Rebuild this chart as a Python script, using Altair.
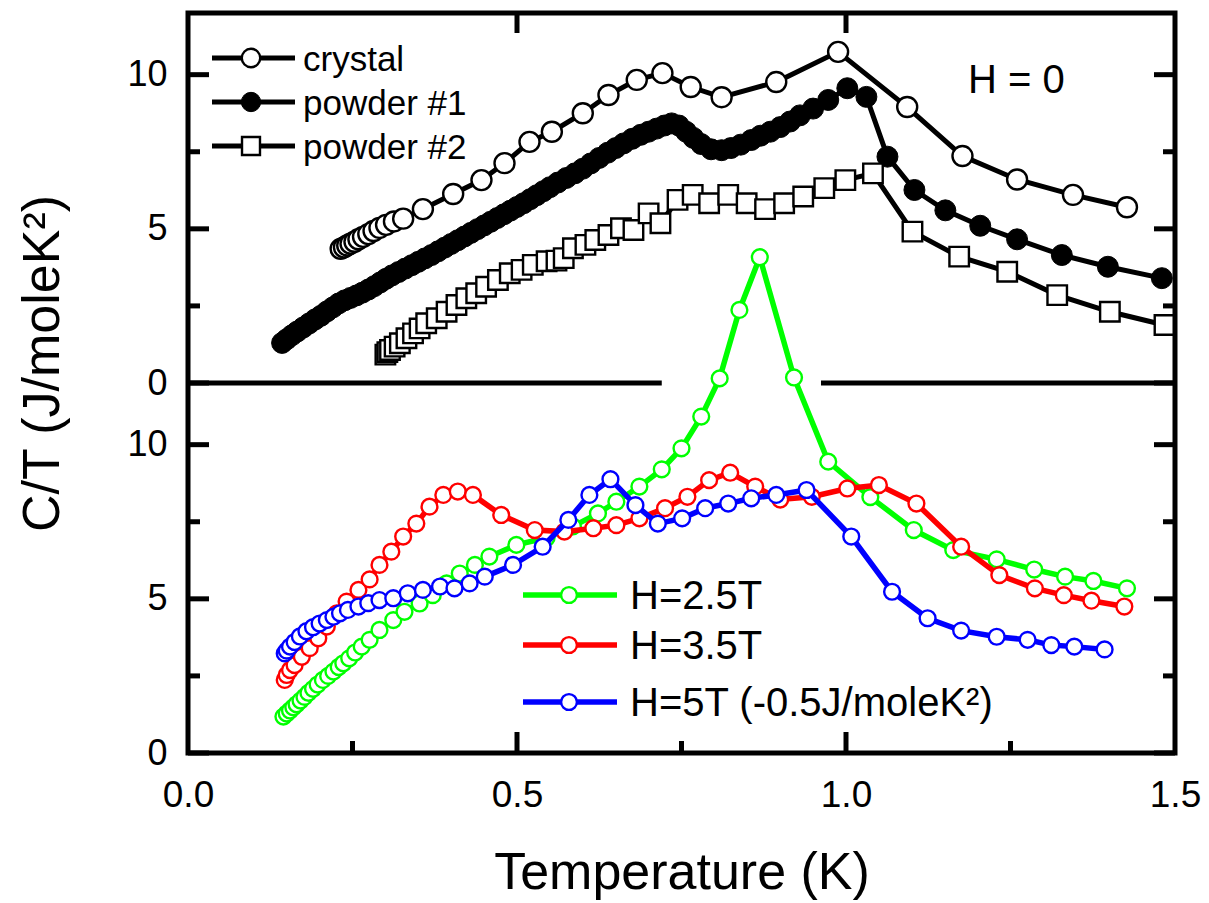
import altair as alt
import pandas as pd

# ---------------- data ----------------
# upper panel, H = 0  (T in K, C/T in J/moleK^2)
crystal = [(0.232, 4.35), (0.237, 4.40), (0.242, 4.46), (0.247, 4.52), (0.253, 4.58),
           (0.259, 4.66), (0.266, 4.74), (0.274, 4.83), (0.282, 4.93), (0.291, 5.03),
           (0.301, 5.13), (0.313, 5.24), (0.327, 5.33), (0.357, 5.64), (0.403, 6.13),
           (0.446, 6.58), (0.481, 7.13), (0.519, 7.82), (0.553, 8.15), (0.600, 8.75),
           (0.639, 9.34), (0.682, 9.83), (0.721, 10.05), (0.764, 9.60), (0.811, 9.27),
           (0.894, 9.76), (0.988, 10.74), (1.093, 8.95), (1.177, 7.36), (1.260, 6.60),
           (1.345, 6.10), (1.427, 5.70)]

powder1 = [(0.143, 1.30), (0.150, 1.42), (0.158, 1.55), (0.166, 1.67), (0.175, 1.80),
           (0.184, 1.93), (0.193, 2.06), (0.202, 2.18), (0.211, 2.32), (0.220, 2.45),
           (0.229, 2.58), (0.238, 2.68), (0.247, 2.76), (0.256, 2.84), (0.265, 2.93),
           (0.274, 3.03), (0.283, 3.14), (0.292, 3.26), (0.301, 3.38), (0.310, 3.49),
           (0.320, 3.60), (0.330, 3.71), (0.340, 3.82), (0.350, 3.93), (0.360, 4.04),
           (0.370, 4.15), (0.380, 4.27), (0.390, 4.39), (0.400, 4.51), (0.410, 4.63),
           (0.420, 4.75), (0.430, 4.87), (0.440, 4.99), (0.450, 5.11), (0.460, 5.23),
           (0.470, 5.35), (0.480, 5.47), (0.490, 5.59), (0.500, 5.71), (0.510, 5.83),
           (0.520, 5.96), (0.530, 6.09), (0.540, 6.22), (0.550, 6.35), (0.562, 6.50),
           (0.575, 6.65), (0.588, 6.80), (0.600, 6.95), (0.612, 7.12), (0.625, 7.30),
           (0.638, 7.47), (0.650, 7.62), (0.662, 7.77), (0.675, 7.92), (0.688, 8.05),
           (0.700, 8.15), (0.712, 8.25), (0.724, 8.35), (0.735, 8.42), (0.746, 8.35),
           (0.757, 8.15), (0.768, 7.95), (0.780, 7.75), (0.795, 7.58), (0.811, 7.55),
           (0.825, 7.62), (0.840, 7.73), (0.856, 7.88), (0.870, 8.02), (0.885, 8.15),
           (0.900, 8.30), (0.915, 8.48), (0.930, 8.68), (0.950, 8.90), (0.973, 9.18),
           (1.002, 9.56), (1.031, 9.28), (1.063, 7.34), (1.104, 6.26), (1.151, 5.60),
           (1.204, 5.10), (1.260, 4.66), (1.328, 4.15), (1.398, 3.77), (1.480, 3.40)]

powder2 = [(0.300, 0.92), (0.303, 1.00), (0.307, 1.07), (0.314, 1.18), (0.322, 1.29),
           (0.332, 1.45), (0.342, 1.61), (0.352, 1.77), (0.362, 1.94), (0.378, 2.10),
           (0.393, 2.31), (0.408, 2.53), (0.423, 2.75), (0.438, 2.91), (0.453, 3.12),
           (0.471, 3.34), (0.489, 3.56), (0.507, 3.67), (0.524, 3.83), (0.545, 3.95),
           (0.560, 3.97), (0.571, 4.05), (0.585, 4.37), (0.604, 4.48), (0.619, 4.64),
           (0.639, 4.80), (0.658, 5.02), (0.677, 4.96), (0.700, 5.50), (0.718, 5.18),
           (0.744, 5.94), (0.767, 6.10), (0.792, 5.83), (0.821, 6.10), (0.849, 5.83),
           (0.877, 5.64), (0.906, 5.83), (0.935, 6.05), (0.967, 6.32), (0.999, 6.58),
           (1.041, 6.80), (1.101, 4.91), (1.172, 4.10), (1.245, 3.61), (1.321, 2.85),
           (1.401, 2.31), (1.484, 1.88)]

# lower panel, in field
h25 = [(0.145, 1.18), (0.150, 1.28), (0.155, 1.38), (0.160, 1.48), (0.165, 1.58),
       (0.171, 1.70), (0.177, 1.82), (0.183, 1.95), (0.190, 2.08), (0.197, 2.22),
       (0.205, 2.37), (0.213, 2.50), (0.221, 2.64), (0.229, 2.79), (0.236, 2.91),
       (0.245, 3.07), (0.254, 3.26), (0.264, 3.45), (0.276, 3.67), (0.291, 3.99),
       (0.312, 4.31), (0.329, 4.58), (0.352, 4.85), (0.372, 5.12), (0.393, 5.50),
       (0.413, 5.82), (0.436, 6.10), (0.458, 6.37), (0.499, 6.75), (0.545, 6.98),
       (0.585, 7.35), (0.623, 7.77), (0.651, 8.15), (0.686, 8.64), (0.720, 9.20),
       (0.750, 9.88), (0.780, 10.91), (0.808, 12.15), (0.838, 14.37), (0.869, 16.08),
       (0.921, 12.18), (0.973, 9.45), (1.037, 8.30), (1.103, 7.23), (1.163, 6.58),
       (1.229, 6.28), (1.286, 5.95), (1.333, 5.72), (1.376, 5.58), (1.427, 5.34)]

h35 = [(0.147, 2.37), (0.150, 2.53), (0.155, 2.69), (0.162, 2.85), (0.173, 3.12),
       (0.185, 3.40), (0.198, 3.72), (0.211, 4.10), (0.226, 4.53), (0.241, 4.91),
       (0.259, 5.29), (0.276, 5.63), (0.291, 6.10), (0.309, 6.53), (0.327, 7.02),
       (0.347, 7.44), (0.367, 7.99), (0.388, 8.37), (0.410, 8.48), (0.433, 8.37),
       (0.476, 7.72), (0.527, 7.23), (0.572, 7.18), (0.616, 7.29), (0.651, 7.39),
       (0.686, 7.61), (0.725, 7.94), (0.759, 8.31), (0.792, 8.85), (0.824, 9.09),
       (0.862, 8.64), (0.900, 8.22), (0.948, 8.31), (1.002, 8.58), (1.050, 8.69),
       (1.107, 8.09), (1.175, 6.69), (1.233, 5.77), (1.287, 5.34), (1.331, 5.12),
       (1.373, 4.94), (1.423, 4.75)]

h5 = [(0.147, 3.23), (0.150, 3.32), (0.155, 3.45), (0.162, 3.60), (0.170, 3.78),
      (0.180, 3.95), (0.190, 4.08), (0.200, 4.20), (0.211, 4.31), (0.221, 4.42),
      (0.231, 4.53), (0.243, 4.64), (0.259, 4.75), (0.274, 4.86), (0.291, 4.96),
      (0.312, 5.02), (0.334, 5.18), (0.357, 5.29), (0.383, 5.40), (0.405, 5.34),
      (0.428, 5.50), (0.451, 5.72), (0.494, 6.10), (0.539, 6.69), (0.578, 7.56),
      (0.610, 8.37), (0.642, 8.88), (0.680, 8.04), (0.714, 7.44), (0.751, 7.61),
      (0.786, 7.94), (0.821, 8.09), (0.856, 8.26), (0.894, 8.37), (0.940, 8.53),
      (1.008, 7.02), (1.070, 5.23), (1.124, 4.37), (1.175, 3.97), (1.229, 3.77),
      (1.276, 3.67), (1.312, 3.50), (1.347, 3.45), (1.393, 3.36)]

# axes / layout values
PANEL_OFFSET = 12          # upper panel zero sits at 12 on the lower panel's scale
x_label_values = [0.0, 0.5, 1.0, 1.5]
x_major_ticks = [0.5, 1.0]
x_minor_ticks = [0.25, 0.75, 1.25]
y_major_ticks = [0, 5, 10]
y_minor_ticks = [2.5, 7.5]
separator_start = [0.0, 0.962]
separator_end = [0.72, 1.5]

upper_legend = ["crystal", "powder #1", "powder #2"]
lower_legend = ["H=2.5T", "H=3.5T", "H=5T (-0.5J/moleK²)"]
lower_colors = ["#00ff00", "#ff0000", "#0000ff"]

# ---------------- chart ----------------
FONT = "Liberation Sans"
W, H = 987, 740

xs = alt.Scale(domain=[0, 1.5], nice=False, zero=False)
ys = alt.Scale(domain=[0, 2 * PANEL_OFFSET], nice=False, zero=False)

y_label_values = y_major_ticks + [v + PANEL_OFFSET for v in y_major_ticks]

x_axis = alt.Axis(values=x_label_values, format=".1f", labelFontSize=37, labelPadding=53,
                  labelBaseline="alphabetic", labelFlush=False, labelOverlap=False,
                  ticks=False, tickSize=0, domain=False, grid=False,
                  title="Temperature (K)", titleFontSize=52, titleFontWeight="normal",
                  titleX=W / 2, titleY=135, titleBaseline="alphabetic", titleAlign="center",
                  labelColor="black", titleColor="black")
y_axis = alt.Axis(values=y_label_values,
                  labelExpr=f"datum.value >= {PANEL_OFFSET} ? format(datum.value - {PANEL_OFFSET}, 'd') : format(datum.value, 'd')",
                  labelFontSize=36, labelPadding=21, labelBaseline="middle", labelAlign="right",
                  labelFlush=False, labelOverlap=False,
                  ticks=False, tickSize=0, domain=False, grid=False,
                  title="C/T (J/moleK²)", titleFontSize=52, titleFontWeight="normal",
                  titleX=-146, titleY=350, titleAngle=270, titleBaseline="middle",
                  titleAlign="center", labelColor="black", titleColor="black")


def X(field):
    return alt.X(field, type="quantitative", scale=xs, axis=x_axis)


def Y(field):
    return alt.Y(field, type="quantitative", scale=ys, axis=y_axis)


def series_df(points, offset):
    return pd.DataFrame({"T": [p[0] for p in points],
                         "C": [p[1] + offset for p in points],
                         "i": list(range(len(points)))})


one = pd.DataFrame({"a": [0]})
layers = []

# ticks (inward)
ymaj = [v for v in y_major_ticks] + [v + PANEL_OFFSET for v in y_major_ticks]
ymin = [v for v in y_minor_ticks] + [v + PANEL_OFFSET for v in y_minor_ticks]
for vals, ln in [(ymaj, 21), (ymin, 12)]:
    d = pd.DataFrame({"v": vals})
    layers.append(alt.Chart(d).mark_rule(color="black", strokeWidth=5).encode(
        y=Y("v"), x=alt.value(0), x2=alt.value(ln)))
    layers.append(alt.Chart(d).mark_rule(color="black", strokeWidth=5).encode(
        y=Y("v"), x=alt.value(W - ln), x2=alt.value(W)))
for vals, ln in [(x_major_ticks, 21), (x_minor_ticks, 12)]:
    d = pd.DataFrame({"v": vals})
    layers.append(alt.Chart(d).mark_rule(color="black", strokeWidth=5).encode(
        x=X("v"), y=alt.value(H - ln), y2=alt.value(H)))
dtop = pd.DataFrame({"v": x_major_ticks})
layers.append(alt.Chart(dtop).mark_rule(color="black", strokeWidth=5).encode(
    x=X("v"), y=alt.value(0), y2=alt.value(20)))

# separator between the two panels
sep = pd.DataFrame({"x0": separator_start, "x1": separator_end,
                    "y": [PANEL_OFFSET] * len(separator_start)})
layers.append(alt.Chart(sep).mark_rule(color="black", strokeWidth=5).encode(
    x=X("x0"), x2="x1:Q", y=Y("y")))

# upper series
upper = [
    (crystal, "circle", "white", 400, 2.4),
    (powder1, "circle", "black", 440, 1.0),
    (powder2, "square", "white", 380, 2.4),
]
for pts, shape, fill, size, sw in upper:
    d = series_df(pts, PANEL_OFFSET)
    layers.append(alt.Chart(d).mark_line(color="black", strokeWidth=5, clip=True).encode(
        x=X("T"), y=Y("C"), order="i:Q"))
    layers.append(alt.Chart(d).mark_point(shape=shape, filled=True, fill=fill, stroke="black",
                                          strokeWidth=sw, size=size, opacity=1, clip=True).encode(
        x=X("T"), y=Y("C")))

# lower series
for pts, col in zip([h25, h35, h5], lower_colors):
    d = series_df(pts, 0)
    layers.append(alt.Chart(d).mark_line(color=col, strokeWidth=5.5, clip=True).encode(
        x=X("T"), y=Y("C"), order="i:Q"))
    layers.append(alt.Chart(d).mark_point(shape="circle", filled=True, fill="white", stroke=col,
                                          strokeWidth=2.4, size=250, opacity=1, clip=True).encode(
        x=X("T"), y=Y("C")))

# upper legend
for k, (lab, (pts, shape, fill, size, sw)) in enumerate(zip(upper_legend, upper)):
    yy = 45 + k * 44
    layers.append(alt.Chart(one).mark_rule(color="black", strokeWidth=5).encode(
        x=alt.value(24), x2=alt.value(107), y=alt.value(yy)))
    layers.append(alt.Chart(one).mark_point(shape=shape, filled=True, fill=fill, stroke="black",
                                            strokeWidth=sw, size=size * 0.85, opacity=1).encode(
        x=alt.value(63), y=alt.value(yy)))
    layers.append(alt.Chart(one).mark_text(align="left", baseline="middle", fontSize=35,
                                           font=FONT, color="black").encode(
        x=alt.value(115), y=alt.value(yy + 2), text=alt.value(lab)))

# lower legend
for k, (lab, col) in enumerate(zip(lower_legend, lower_colors)):
    yy = [582, 632, 689][k]
    layers.append(alt.Chart(one).mark_rule(color=col, strokeWidth=5.5).encode(
        x=alt.value(335), x2=alt.value(429), y=alt.value(yy)))
    layers.append(alt.Chart(one).mark_point(shape="circle", filled=True, fill="white", stroke=col,
                                            strokeWidth=2.4, size=250, opacity=1).encode(
        x=alt.value(381), y=alt.value(yy)))
    layers.append(alt.Chart(one).mark_text(align="left", baseline="middle", fontSize=40,
                                           font=FONT, color="black").encode(
        x=alt.value(442), y=alt.value(yy + 2), text=alt.value(lab)))

# panel annotation
layers.append(alt.Chart(one).mark_text(align="left", baseline="alphabetic", fontSize=40,
                                       font=FONT, color="black").encode(
    x=alt.value(780), y=alt.value(80), text=alt.value("H = 0")))

# frame on top
layers.append(alt.Chart(one).mark_rect(filled=False, stroke="black", strokeWidth=5).encode(
    x=alt.value(0), x2=alt.value(W), y=alt.value(0), y2=alt.value(H)))

chart = alt.layer(*layers).properties(
    width=W, height=H,
    padding={"left": 180, "top": 5, "right": 26, "bottom": 150},
    autosize=alt.AutoSizeParams(type="none"),
).configure_view(stroke=None).configure(font=FONT)

chart.save("out.html", embed_options={"renderer": "svg", "actions": False})
